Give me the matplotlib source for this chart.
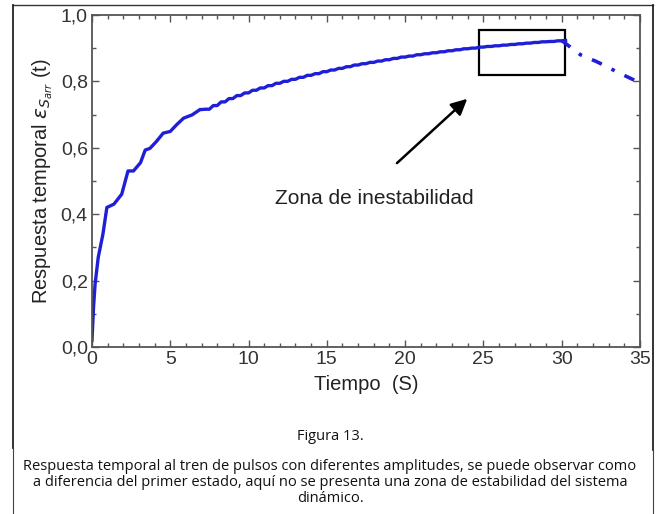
import numpy as np
import matplotlib
matplotlib.use("Agg")
import matplotlib.pyplot as plt
from matplotlib.lines import Line2D
from matplotlib.patches import Rectangle
from matplotlib.ticker import MultipleLocator, FuncFormatter

# early transient, read point by point
t_start = [0, 0.1, 0.2, 0.4, 0.7, 0.95, 1.4, 1.9, 2.3, 2.65, 3.1, 3.4, 3.7,
           4.1, 4.55, 5.0, 5.4, 5.85, 6.4, 6.9]
y_start = [0.02, 0.12, 0.19, 0.27, 0.34, 0.42, 0.43, 0.46, 0.53, 0.53, 0.555,
           0.593, 0.598, 0.618, 0.644, 0.649, 0.669, 0.689, 0.699, 0.715]

# one plateau per pulse (every 0.5 s) from 7 s to 30 s
pulse_t = [7.0, 7.5, 8.0, 8.5, 9.0, 9.5, 10.0, 10.5, 11.0, 11.5, 12.0, 12.5,
           13.0, 13.5, 14.0, 14.5, 15.0, 15.5, 16.0, 16.5, 17.0, 17.5, 18.0,
           18.5, 19.0, 19.5, 20.0, 20.5, 21.0, 21.5, 22.0, 22.5, 23.0, 23.5,
           24.0, 24.5, 25.0, 25.5, 26.0, 26.5, 27.0, 27.5, 28.0, 28.5, 29.0,
           29.5, 30.0]
pulse_level = [0.716, 0.727, 0.738, 0.748, 0.757, 0.765, 0.773, 0.780, 0.787,
               0.794, 0.800, 0.806, 0.812, 0.818, 0.823, 0.829, 0.834, 0.839,
               0.844, 0.849, 0.853, 0.857, 0.861, 0.865, 0.869, 0.873, 0.876,
               0.880, 0.883, 0.886, 0.889, 0.892, 0.895, 0.898, 0.900, 0.903,
               0.905, 0.907, 0.909, 0.911, 0.913, 0.915, 0.917, 0.919, 0.920,
               0.922, 0.923]

# unstable part after 30 s (dash-dot)
t_end = [30.0, 31.2, 32.2, 32.9, 33.5, 34.8, 35.0]
y_end = [0.923, 0.880, 0.860, 0.844, 0.829, 0.800, 0.795]

box_x = [24.7, 30.2]
box_y = [0.82, 0.955]
arrow_from = (19.35, 0.548)
arrow_to = (24.1, 0.753)

# staircase: rise during first quarter of each pulse, then flat
pt = np.array(pulse_t)
pl = np.array(pulse_level)
stair_t = np.column_stack([pt, pt + 0.25]).ravel()
stair_y = np.column_stack([np.r_[y_start[-1], pl[:-1]], pl]).ravel()
t_main = np.r_[t_start, stair_t]
y_main = np.r_[y_start, stair_y]

plt.rcParams['font.family'] = ['Liberation Sans', 'DejaVu Sans']
blue = '#1f1fd8'
grey = '#555555'

fig = plt.figure(figsize=(6.57, 5.14), dpi=100)
ax = fig.add_axes([0.140, 0.325, 0.834, 0.646])

ax.plot(t_main, y_main, color=blue, lw=2.4, solid_joinstyle='round')
ax.plot(t_end, y_end, color=blue, lw=2.6, linestyle=(0, (3, 3, 1, 3)))

ax.add_patch(Rectangle((box_x[0], box_y[0]), box_x[1] - box_x[0],
                       box_y[1] - box_y[0], fill=False, ec='black', lw=1.6))
ax.annotate('', xy=arrow_to, xytext=arrow_from,
            arrowprops=dict(arrowstyle='-|>', color='black', lw=1.8,
                            mutation_scale=24))
ax.text(11.7, 0.446, 'Zona de inestabilidad', fontsize=15, color='#222222',
        va='center', ha='left')

ax.set_xlim(0, 35)
ax.set_ylim(0, 1.0)
ax.xaxis.set_major_locator(MultipleLocator(5))
ax.xaxis.set_minor_locator(MultipleLocator(1))
ax.yaxis.set_major_locator(MultipleLocator(0.2))
ax.yaxis.set_minor_locator(MultipleLocator(0.1))
ax.yaxis.set_major_formatter(FuncFormatter(lambda v, p: f'{v:.1f}'.replace('.', ',')))
ax.tick_params(which='both', direction='in', top=True, right=True,
               color=grey, labelsize=14, labelcolor='#333333', width=1.0)
ax.tick_params(which='major', length=5, pad=3)
ax.tick_params(which='minor', length=3)
for s in ax.spines.values():
    s.set_color(grey)
    s.set_linewidth(1.3)

ax.set_xlabel('Tiempo  (S)', fontsize=14.5, color='#222222', labelpad=5)
ax.set_ylabel(r'Respuesta temporal $\epsilon_{S_{arr}}$ (t)', fontsize=14.5,
              color='#222222', labelpad=4)

# page frame
W, H = 657, 514
def fx(p):
    return p / W
def fy(p):
    return 1 - p / H
fig.add_artist(Line2D([fx(13), fx(653)], [fy(5), fy(5)], color='#333333', lw=1.0))
fig.add_artist(Line2D([fx(13), fx(13)], [fy(5), fy(448)], color='#222222', lw=1.3))
fig.add_artist(Line2D([fx(13), fx(13)], [fy(448), fy(514)], color='#444444', lw=0.8))
fig.add_artist(Line2D([fx(653), fx(653)], [fy(5), fy(450)], color='#222222', lw=1.3))
fig.add_artist(Line2D([fx(653), fx(653)], [fy(450), fy(514)], color='#444444', lw=0.8))

cap_font = ['Open Sans', 'DejaVu Sans']
fig.text(fx(330), fy(437), 'Figura 13.', ha='center', va='center',
         fontsize=10.5, family=cap_font, color='#111111')
caption_lines = [
    'Respuesta temporal al tren de pulsos con diferentes amplitudes, se puede observar como',
    'a diferencia del primer estado, aquí no se presenta una zona de estabilidad del sistema',
    'dinámico.',
]
for i, line in enumerate(caption_lines):
    fig.text(fx(330), fy(467 + 16 * i), line, ha='center', va='center',
             fontsize=10.5, family=cap_font, color='#111111')

fig.savefig('out.png', dpi=100)
